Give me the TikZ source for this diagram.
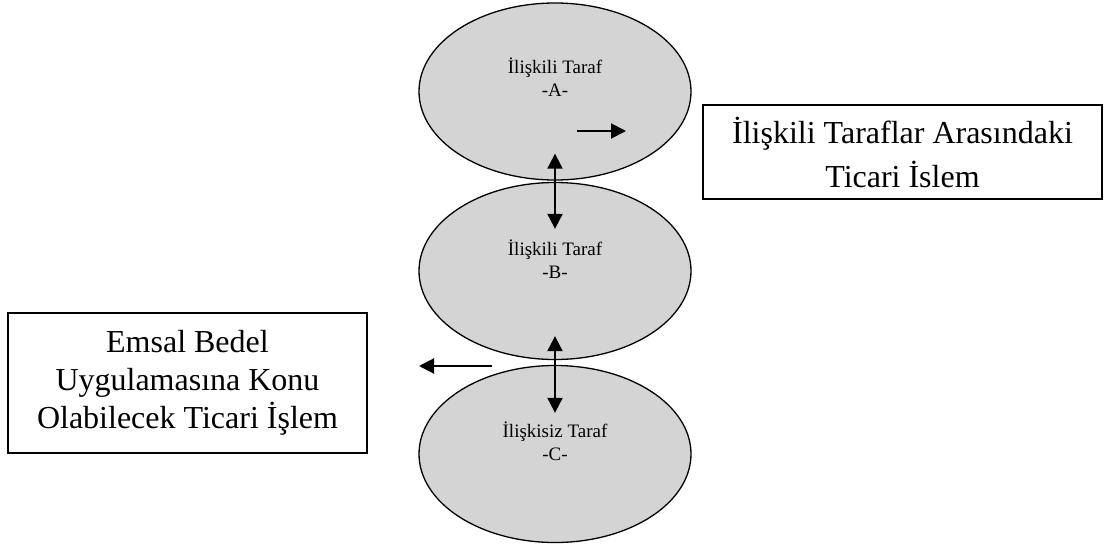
\documentclass[tikz,border=0pt]{standalone}
\usepackage{fontspec}
\setmainfont{Liberation Serif}
\usetikzlibrary{shapes.geometric,arrows.meta}
\definecolor{partyfill}{HTML}{D4D4D4}
\tikzset{
  party/.style={ellipse, draw=black, line width=1.3pt, fill=partyfill,
    minimum width=272pt, minimum height=177pt, inner sep=0pt},
  partytext/.style={align=center, font=\fontsize{19}{23}\selectfont, inner sep=0pt},
  infobox/.style={draw=black, line width=1.2pt, align=center, inner sep=0pt},
  flow/.style={line width=2pt, -{Triangle[length=15pt,width=15pt]}},
  bothflow/.style={line width=2pt, {Triangle[length=15pt,width=15pt]}-{Triangle[length=15pt,width=15pt]}}
}
\begin{document}
\begin{tikzpicture}[x=1pt,y=-1pt]
  \useasboundingbox (0,0) rectangle (1109,552);

  % the three parties
  \node[party] (A) at (555,91.5) {};
  \node[party] (B) at (555,271) {};
  \node[party] (C) at (555,454) {};

  \node[partytext] (At) at (555,77) {İlişkili Taraf\\-A-};
  \node[partytext] (Bt) at (555,259) {İlişkili Taraf\\-B-};
  \node[partytext] (Ct) at (555,441) {İlişkisiz Taraf\\-C-};

  % explanatory boxes
  \node[infobox, minimum width=399pt, minimum height=94pt,
        font=\fontsize{32}{44}\selectfont] (R) at (902.5,152)
        {İlişkili Taraflar Arasındaki\\Ticari İslem};
  \node[infobox, minimum width=359pt, minimum height=140pt,
        font=\fontsize{32}{38}\selectfont] (L) at (187.5,383)
        {Emsal Bedel\\Uygulamasına Konu\\Olabilecek Ticari İşlem};

  % transactions between the parties
  \draw[bothflow] ([yshift=27pt]A.south) -- ([yshift=-47pt]B.north);
  \draw[bothflow] ([yshift=24pt]B.south) -- ([yshift=-48pt]C.north);

  % pointers to the boxes
  \coordinate (rs) at (577,131);
  \coordinate (re) at (626,131);
  \draw[flow] (rs) -- (re);
  \coordinate (ls) at (492,366);
  \coordinate (le) at (419,366);
  \draw[flow] (ls) -- (le);
\end{tikzpicture}
\end{document}
